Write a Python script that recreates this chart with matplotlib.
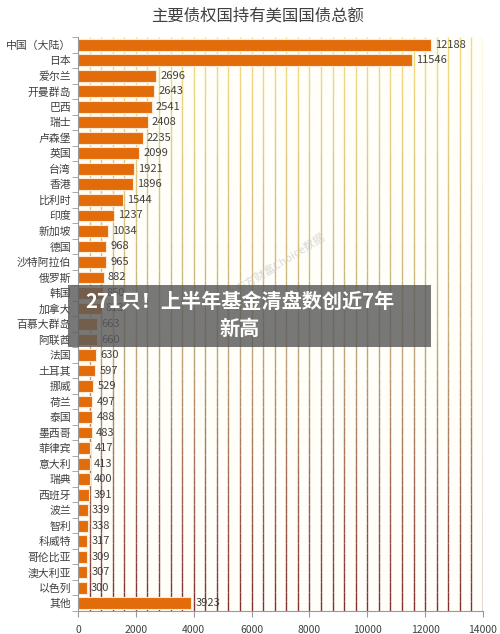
import numpy as np
import matplotlib
matplotlib.use("Agg")
import matplotlib.pyplot as plt
from matplotlib.collections import LineCollection
from matplotlib.colors import to_rgb
from matplotlib.patches import Rectangle

plt.rcParams["font.family"] = ["Noto Sans CJK SC", "DejaVu Sans"]
plt.rcParams["axes.unicode_minus"] = False

# ── 数据 ──────────────────────────────────────────────
countries = ["中国（大陆）", "日本", "爱尔兰", "开曼群岛", "巴西", "瑞士", "卢森堡",
             "英国", "台湾", "香港", "比利时", "印度", "新加坡", "德国", "沙特阿拉伯",
             "俄罗斯", "韩国", "加拿大", "百慕大群岛", "阿联酋", "法国", "土耳其",
             "挪威", "荷兰", "泰国", "墨西哥", "菲律宾", "意大利", "瑞典", "西班牙",
             "波兰", "智利", "科威特", "哥伦比亚", "澳大利亚", "以色列", "其他"]
holdings = [12188, 11546, 2696, 2643, 2541, 2408, 2235, 2099, 1921, 1896,
            1544, 1237, 1034, 968, 965, 882, 850, 813, 663, 660, 630, 597,
            529, 497, 488, 483, 417, 413, 400, 391, 339, 338, 317, 309, 307,
            300, 3923]
x_ticks = [0, 2000, 4000, 6000, 8000, 10000, 12000, 14000]

title = "主要债权国持有美国国债总额"
overlay_text = "271只！上半年基金清盘数创近7年\n新高"

BAR = "#E36C0A"
TXT = "#404040"

fig = plt.figure(figsize=(5, 6.34), dpi=100)
fig.patch.set_facecolor("white")
ax = fig.add_axes([0.156, 0.0363, 0.81, 0.9053])
ax.set_facecolor("#fffef8")

n = len(countries)
ypos = np.arange(n)
ax.set_xlim(0, 14000)
ax.set_ylim(n - 0.5, -0.5)

# 渐变网格线（上黄下红褐）
stops = [to_rgb("#f2dc80"), to_rgb("#c4ae80"), to_rgb("#7e2c2c")]
def grad(t):
    if t < 0.5:
        a, b, f = stops[0], stops[1], t / 0.5
    else:
        a, b, f = stops[1], stops[2], (t - 0.5) / 0.5
    return tuple(a[i] + (b[i] - a[i]) * f for i in range(3))

segs, cols = [], []
edges = np.linspace(-0.5, n - 0.5, 60)
for gx in np.arange(400, 14001, 400):
    for k in range(len(edges) - 1):
        segs.append([(gx, edges[k]), (gx, edges[k + 1])])
        cols.append(grad((edges[k] + 0.5) / n))
ax.add_collection(LineCollection(segs, colors=cols, linewidths=1.0, zorder=1))

ax.barh(ypos, holdings, height=0.76, color=BAR, edgecolor="#fbe9d8",
        linewidth=0.8, zorder=2)
for y, v in zip(ypos, holdings):
    ax.text(v + 150, y, str(v), va="center", ha="left", fontsize=8,
            color=TXT, zorder=3)

ax.set_yticks(ypos)
ax.set_yticklabels(countries, fontsize=7.8, color=TXT)
ax.set_yticks(np.arange(-0.5, n, 1), minor=True)
ax.tick_params(axis="y", which="major", length=0, pad=5)
ax.tick_params(axis="y", which="minor", length=4, color="#999999")
ax.set_xticks(x_ticks)
ax.set_xticklabels([str(t) for t in x_ticks], fontsize=7.5, color=TXT)
ax.tick_params(axis="x", length=4, color="#999999", pad=6)

for s in ["top", "right"]:
    ax.spines[s].set_visible(False)
ax.spines["left"].set_color("#999999")
ax.spines["bottom"].set_color("#999999")

fig.text(0.516, 0.975, title, ha="center", va="center", fontsize=11.8,
         color=TXT)

# 水印
fig.text(0.56, 0.585, "东方财富Choice数据", rotation=32, ha="center",
         va="center", fontsize=8, color="#c8c8c8", alpha=0.7)

# 半透明标题遮罩
fig.patches.append(Rectangle((68 / 500, 1 - 347 / 634), 363 / 500, 62 / 634,
                             transform=fig.transFigure, facecolor="#5a5a5a",
                             alpha=0.82, edgecolor="none", zorder=5))
fig.text(0.48, 1 - 315 / 634, overlay_text, ha="center", va="center",
         fontsize=14.5, fontweight="bold", color="white", linespacing=1.3,
         zorder=6)

fig.savefig("out.png", dpi=100)
